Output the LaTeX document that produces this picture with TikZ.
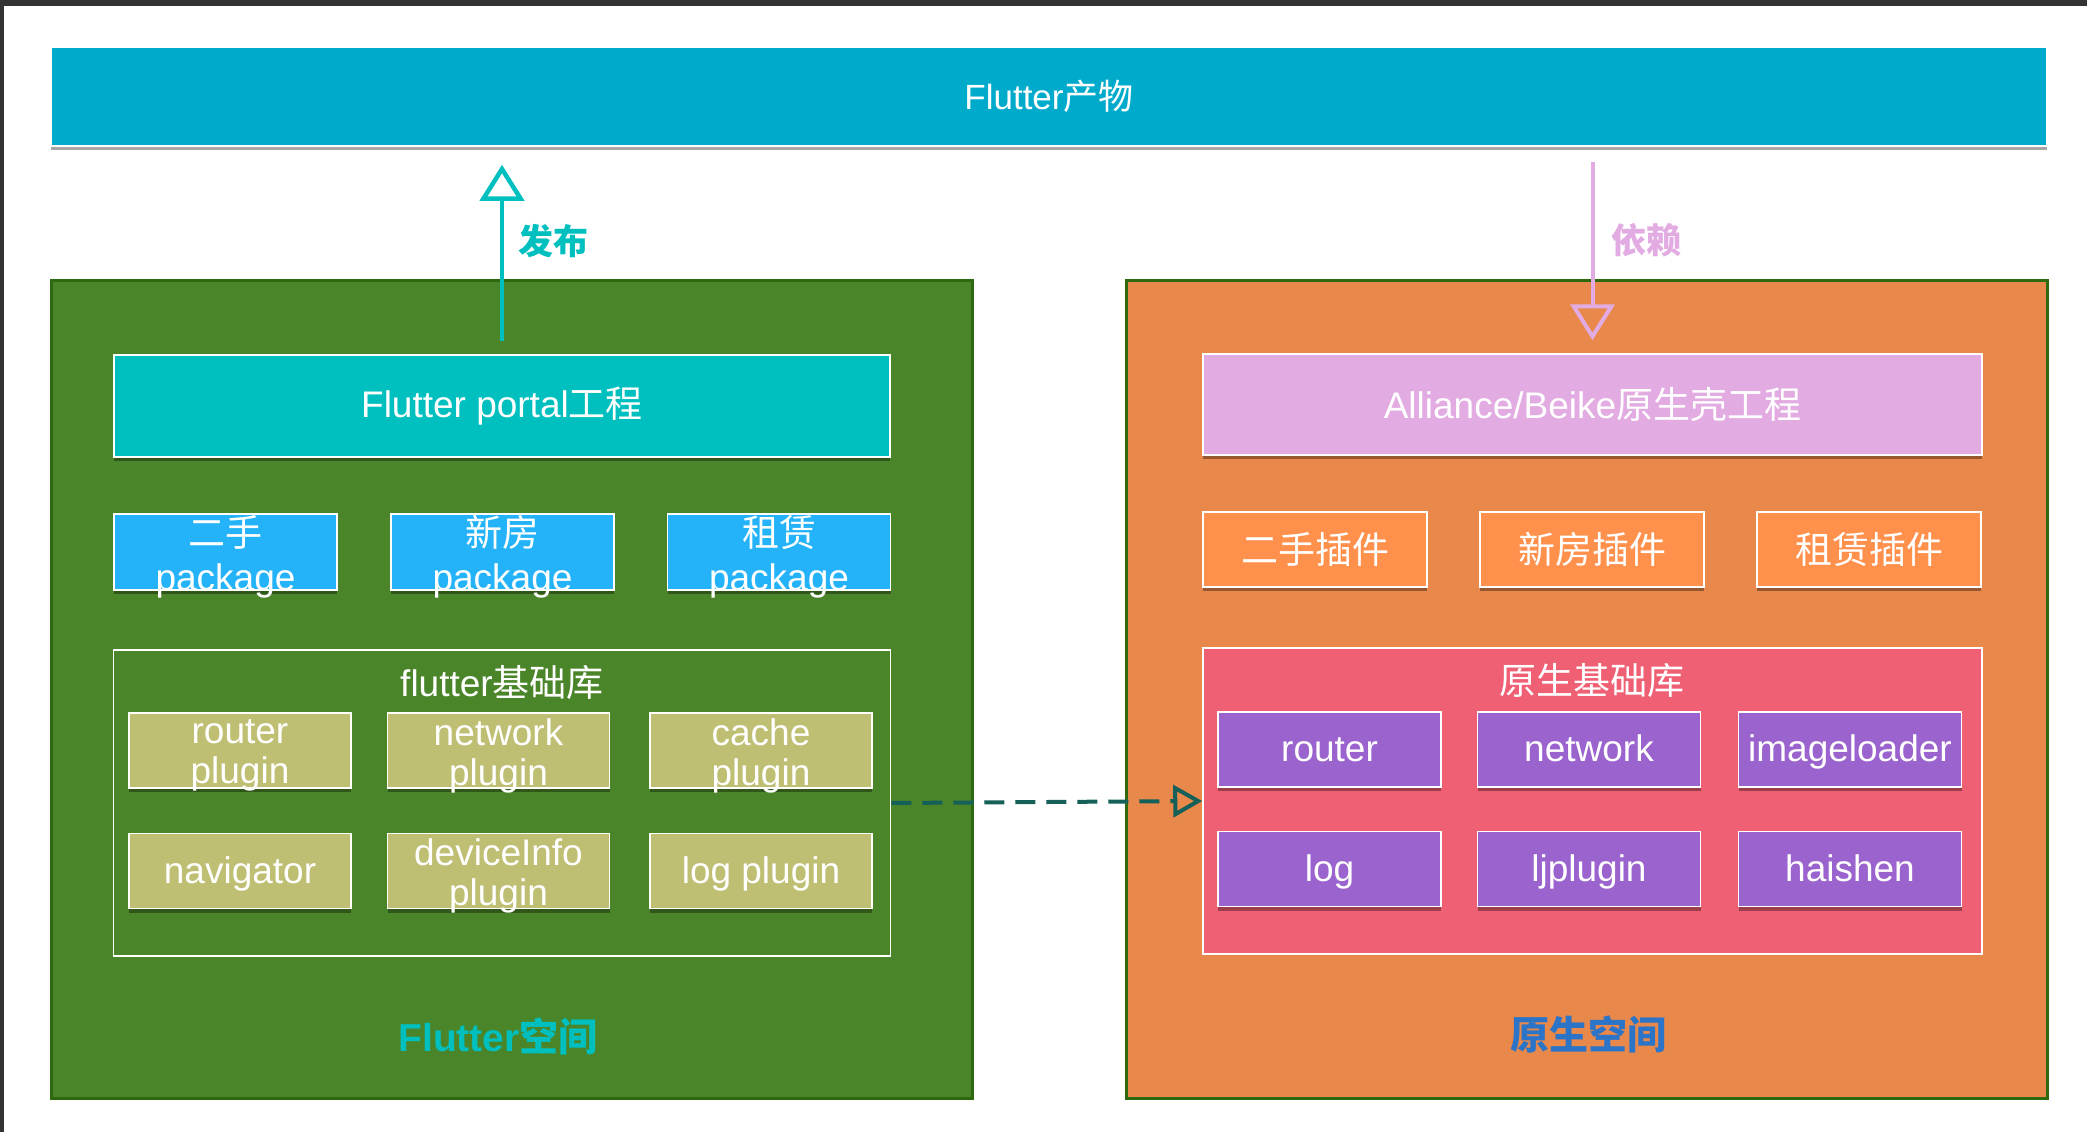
\documentclass[tikz,border=0pt]{standalone}
\usepackage{fontspec}
\setmainfont{Liberation Sans}
\newfontfamily\cjk{Noto Sans CJK SC}
\usetikzlibrary{arrows.meta,shadows}

\definecolor{darkframe}{HTML}{333333}
\definecolor{productblue}{HTML}{00AACB}
\definecolor{flgreen}{HTML}{4B8529}
\definecolor{spaceborder}{HTML}{2D6A0F}
\definecolor{nativeorange}{HTML}{E8884A}
\definecolor{portalcyan}{HTML}{00BFBF}
\definecolor{pkgblue}{HTML}{24B3F8}
\definecolor{pluginolive}{HTML}{BFBF73}
\definecolor{shellpink}{HTML}{E2ACE2}
\definecolor{plugorange}{HTML}{FF914D}
\definecolor{libred}{HTML}{F06074}
\definecolor{libpurple}{HTML}{9A63CE}
\definecolor{nativeblue}{HTML}{2C74C8}
\definecolor{linkteal}{HTML}{16605A}

\tikzset{
  box/.style={draw=white, line width=1.5, text=white, align=center, inner sep=0,
    font=\fontsize{37}{42}\selectfont,
    drop shadow={shadow xshift=0pt, shadow yshift=-4pt, opacity=.35, fill=black}},
  boxtext/.style={text=white, align=center, inner sep=0, yshift=-5},
  lines/.style={label={[boxtext, font=\fontsize{37}{40}\selectfont]center:#1}},
  pkglines/.style={label={[boxtext, font=\fontsize{37}{44}\selectfont]center:#1}},
  pkgbox/.style={box, fill=pkgblue, minimum width=223, minimum height=76},
  fplugin/.style={box, fill=pluginolive, minimum width=222, minimum height=75, text height=28, text depth=4},
  nplugin/.style={box, fill=plugorange, minimum width=224, minimum height=75},
  nlibbox/.style={box, fill=libpurple, minimum width=223, minimum height=75, text height=28, text depth=4},
  libframe/.style={draw=white, line width=1.5, minimum width=777, minimum height=306, inner sep=0},
  spacebox/.style={draw=spaceborder, line width=3, minimum width=921, minimum height=818, inner sep=0},
  spacelabel/.style={font=\fontsize{39}{44}\selectfont\bfseries},
  arrowlabel/.style={font=\fontsize{35}{40}\selectfont\bfseries\cjk, anchor=west},
  tip/.style={-{Triangle[open, length=36, width=44]}, line width=4.5}
}

\begin{document}
\begin{tikzpicture}[x=1pt,y=-1pt]
  % page and frame
  \useasboundingbox (0,0) rectangle (2087,1132);
  \fill[white] (0,0) rectangle (2087,1132);
  \fill[darkframe] (0,0) rectangle (2087,6);
  \fill[darkframe] (0,0) rectangle (4,1132);

  % flutter product
  \node[box, fill=productblue, minimum width=1996, minimum height=99,
        font=\fontsize{35}{40}\selectfont] (product) at (1049,96.5) {Flutter{\cjk 产物}};

  % the two spaces
  \node[spacebox, fill=flgreen] (flutterspace) at (512,689) {};
  \node[spacebox, fill=nativeorange] (nativespace) at (1586.5,689) {};

  % flutter side
  \node[box, fill=portalcyan, minimum width=776, minimum height=102] (portal) at (502,406) {Flutter portal{\cjk 工程}};
  \node[pkgbox, pkglines={{\cjk 二手}\\package}] (pkgsecond) at (225.5,552) {};
  \node[pkgbox, pkglines={{\cjk 新房}\\package}] (pkgnew) at (502.5,552) {};
  \node[pkgbox, pkglines={{\cjk 租赁}\\package}] (pkgrent) at (779,552) {};

  \node[libframe] (flib) at (502,803) {};
  \node[text=white, font=\fontsize{37}{42}\selectfont] (fribtitle) at (502,683) {flutter{\cjk 基础库}};
  \node[fplugin, lines={router\\plugin}] (frouter) at (240,750.5) {};
  \node[fplugin, lines={network\\plugin}] (fnetwork) at (498.5,750.5) {};
  \node[fplugin, lines={cache\\plugin}] (fcache) at (761,750.5) {};
  \node[fplugin] (fnavigator) at (240,871) {navigator};
  \node[fplugin, lines={deviceInfo\\plugin}] (fdevice) at (498.5,871) {};
  \node[fplugin] (flog) at (761,871) {log plugin};

  \node[spacelabel, text=portalcyan] (flutterlabel) at (498,1036) {Flutter{\cjk 空间}};

  % native side
  \node[box, fill=shellpink, minimum width=779, minimum height=101] (shell) at (1592.5,404.5) {Alliance/Beike{\cjk 原生壳工程}};
  \node[nplugin] (plugsecond) at (1315,549.5) {\cjk 二手插件};
  \node[nplugin] (plugnew) at (1592,549.5) {\cjk 新房插件};
  \node[nplugin] (plugrent) at (1869,549.5) {\cjk 租赁插件};

  \node[libframe, fill=libred, minimum width=779] (nlib) at (1592.5,801) {};
  \node[text=white, font=\fontsize{37}{42}\selectfont\cjk] (nlibtitle) at (1592,681) {原生基础库};
  \node[nlibbox] (nrouter) at (1329.5,749.5) {router};
  \node[nlibbox] (nnetwork) at (1589,749.5) {network};
  \node[nlibbox] (nimage) at (1850,749.5) {imageloader};
  \node[nlibbox] (nlog) at (1329.5,869) {log};
  \node[nlibbox] (nlj) at (1589,869) {ljplugin};
  \node[nlibbox] (nhaishen) at (1850,869) {haishen};

  \node[spacelabel, text=nativeblue, font=\fontsize{39}{44}\selectfont\bfseries\cjk] (nativelabel) at (1588,1034) {原生空间};

  % arrows
  \draw[tip, draw=portalcyan, shorten <=13, shorten >=18] (portal.north) -- (portal.north |- product.south);
  \node[arrowlabel, text=portalcyan] (publish) at (515,241) {发布};
  \draw[tip, draw=shellpink, line width=4, shorten <=15, shorten >=13] (shell.north |- product.south) -- (shell.north);
  \node[arrowlabel, text=shellpink] (depend) at (1608,240) {依赖};
  \draw[draw=linkteal, line width=4, dash pattern=on 20 off 11,
        -{Triangle[open, length=29, width=32]}] (flib.east) -- (nlib.west);
\end{tikzpicture}
\end{document}
